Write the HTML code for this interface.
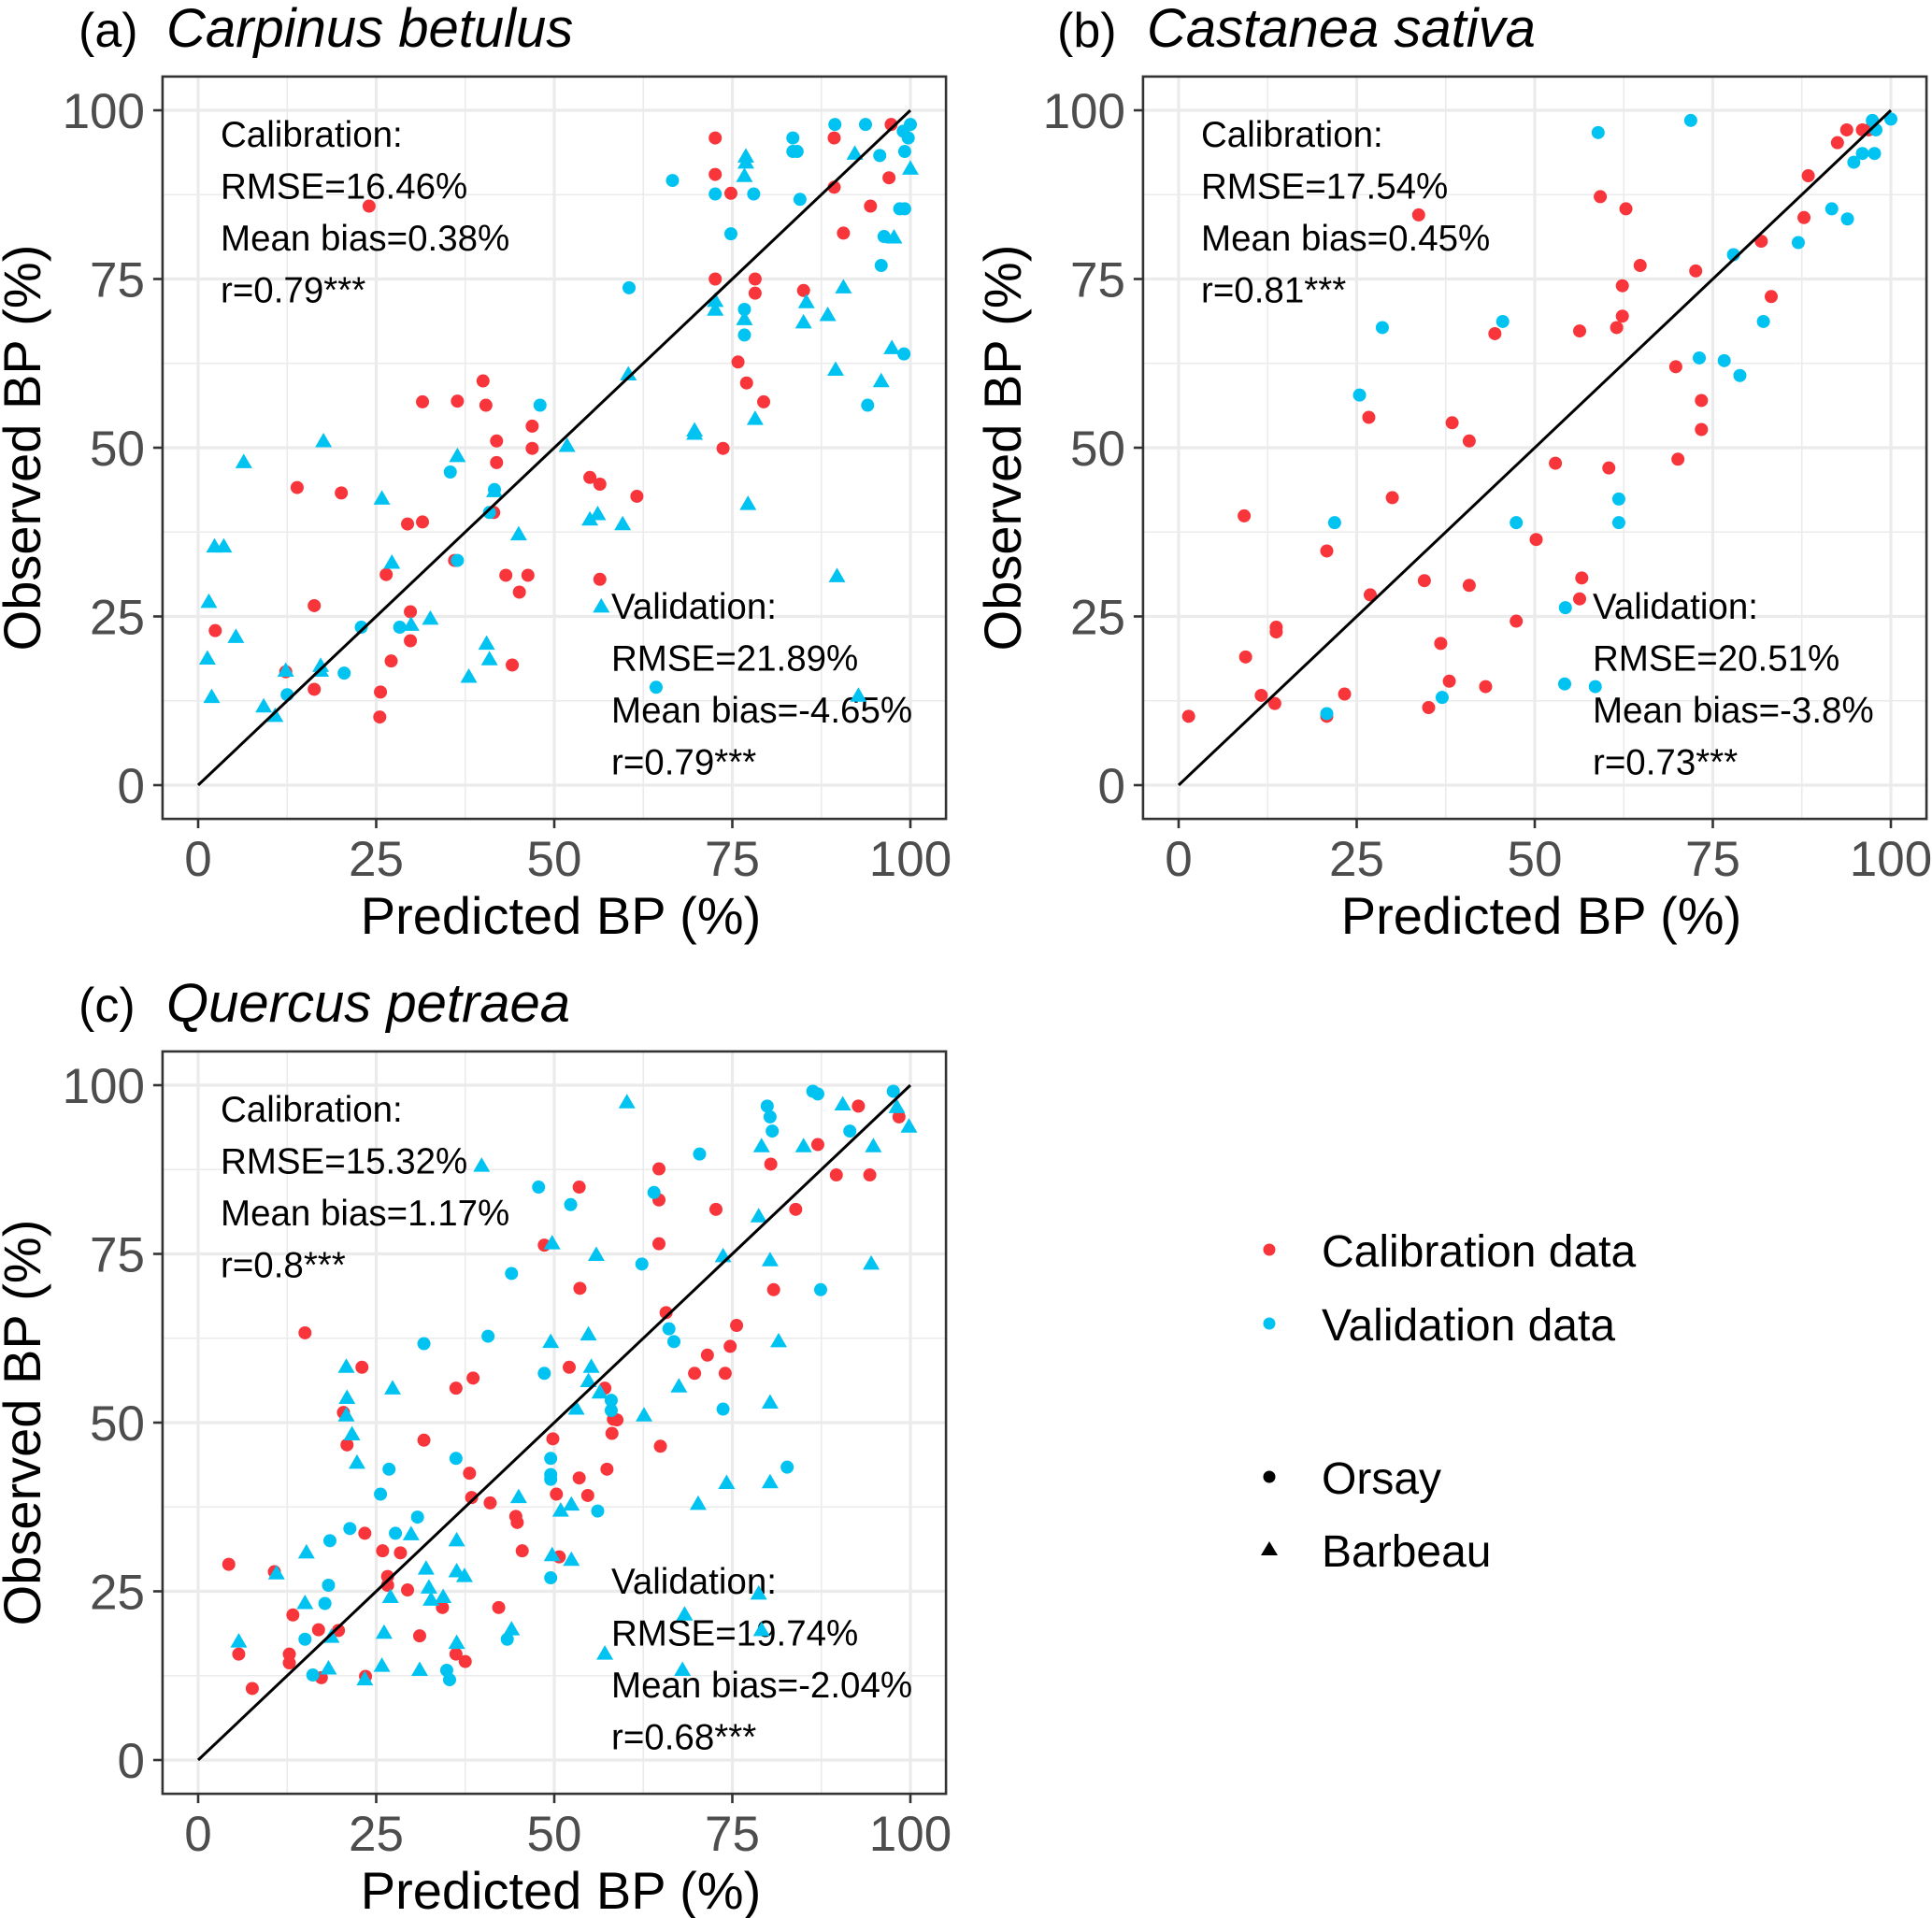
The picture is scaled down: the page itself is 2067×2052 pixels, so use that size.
<!DOCTYPE html>
<html><head><meta charset="utf-8">
<style>
html,body{margin:0;padding:0;background:#fff;}
svg{display:block;font-family:"Liberation Sans",Arial,sans-serif;}
</style></head>
<body>
<svg id="fig" width="2067" height="2052" viewBox="0 0 2067 2052" xmlns="http://www.w3.org/2000/svg"></svg>
<script>
// ---- Data (x = predicted %, y = observed %) ----
const ticks = [0, 25, 50, 75, 100];
const tickLabels = ["0", "25", "50", "75", "100"];

// Panel (a) Carpinus betulus
const aCalX = [24,72.6,72.6,74.8,89.3,97.3,97,89.3,94.4,90.6,72.6,78.2,78.2,85,75.8,77,79.4,73.7,40,31.5,36.4,40.4,41.9,46.9,46.9,41.9,13.9,20.1,29.4,31.5,41.5,55,56.4,61.6,36,26.4,43.2,46.3,45.1,56.4,16.3,29.8,29.8,27.1,44.1,2.4,16.3,25.6,25.5,12.3];
const aCalY = [85.8,95.9,90.5,87.7,95.9,97.9,90,88.6,85.8,81.8,75,75,72.9,73.3,62.7,59.6,56.8,49.9,59.9,56.8,56.9,56.3,51,53.2,49.9,47.8,44.1,43.3,38.7,39,40.4,45.6,44.6,42.8,33.3,31.2,31.1,31.1,28.6,30.5,26.6,25.7,21.4,18.4,17.8,22.9,14.2,13.8,10.1,16.8];
const aValOrsayX = [89.4,93.7,100,99,99.7,83.5,83.5,84.1,95.7,99.2,66.6,72.6,78,84.5,98.5,99.2,74.8,96.3,95.9,60.5,76.7,76.7,99.1,94,48,35.4,41.6,40.9,36.4,22.9,28.3,20.5,12.5,64.3];
const aValOrsayY = [97.9,97.9,97.9,96.9,95.9,95.9,93.9,93.9,93.3,93.9,89.6,87.6,87.6,86.8,85.4,85.4,81.7,81.3,77,73.7,70.5,66.7,63.9,56.3,56.3,46.4,43.8,40.4,33.3,23.4,23.4,16.6,13.4,14.5];
const aValBarbX = [76.9,76.9,76.7,92.2,100,97.7,72.6,72.6,76.7,85.4,85,88.4,90.6,97.4,95.9,89.5,78.2,69.7,69.7,60.4,51.8,55,56.1,59.6,77.2,89.7,56.6,92.7,6.4,17.6,36.4,41.6,25.8,45,2.3,3.6,27.2,1.5,5.3,1.3,1.9,32.6,29.9,40.5,40.9,38,17.2,17.2,12.3,9.2,10.8];
const aValBarbY = [93.1,92.2,90.2,93.5,91.3,81.1,71.7,70.4,69,71.5,68.5,69.6,73.7,64.7,59.8,61.5,54.2,52.5,52,60.8,50.2,39.3,40.1,38.6,41.6,30.9,26.4,13.2,47.8,50.9,48.7,43.5,42.4,37.1,35.3,35.3,32.9,27.1,21.9,18.7,13,24.6,23.7,20.9,18.6,16,16.9,17.6,16.9,11.6,10.2];

// Panel (b) Castanea sativa
const bCalX = [1.4,9.2,9.4,11.6,13.5,13.7,13.7,20.8,20.8,23.3,26.9,26.7,30,33.7,34.5,35.1,36.8,38,38.4,40.8,40.8,43.1,44.4,47.4,50.2,52.9,56.3,56.6,56.3,59.2,60.4,61.5,62.3,62.3,62.8,64.8,69.8,70.1,72.6,73.4,73.4,81.8,83.2,87.8,88.4,92.5,93.8,96,96.9];
const bCalY = [10.2,39.9,19,13.3,12.1,22.7,23.4,34.7,10.2,13.5,28.2,54.5,42.6,84.5,30.3,11.5,21,15.4,53.7,51,29.6,14.6,66.9,24.3,36.4,47.7,67.3,30.7,27.6,87.2,47,67.8,74,69.5,85.4,77,62,48.3,76.2,57,52.7,80.6,72.4,84.1,90.3,95.2,97.1,97.1,97.1];
const bValOrsayX = [20.8,21.9,25.4,28.6,37,45.5,47.4,54.2,54.3,58.5,58.9,61.8,61.8,71.9,73.1,76.6,77.9,78.8,82.1,87,91.7,93.9,94.8,96,97.4,97.7,97.9,100];
const bValOrsayY = [10.6,38.9,57.8,67.8,13,68.7,38.9,15,26.3,14.6,96.7,42.4,38.9,98.5,63.3,62.9,78.6,60.7,68.7,80.4,85.4,83.9,92.3,93.6,98.5,93.6,97.1,98.7];
const bValBarbX = [];
const bValBarbY = [];

// Panel (c) Quercus petraea
const cCalX = [4.3,5.7,7.6,10.7,12.8,12.8,13.3,15,16.9,17.3,19.7,20.4,20.9,23,23.4,23.5,25.9,26.6,26.6,28.4,29.4,31.1,31.7,34.3,36.2,36.2,37.5,38.1,38.4,38.6,41,42.2,44.6,44.8,45.5,48.6,49.8,50.3,50.7,52.1,53.5,53.5,53.6,54.7,57.1,57.4,58.1,58.3,58.8,64.7,64.7,64.7,64.9,65.7,69.7,71.5,72.7,74,74.7,75.6,80.4,80.8,83.9,87,89.6,92.7,94.3,98.4];
const cCalY = [29,15.7,10.6,27.9,15.7,14.4,21.5,63.3,19.3,12.2,19.2,51.5,46.7,58.2,33.6,12.4,31,27.2,25.9,30.7,25.2,18.4,47.4,22.6,55.1,15.7,14.6,42.5,38.9,56.6,38.1,22.6,36.1,35.2,31,76.3,47.6,39.4,30.1,58.2,84.9,41.8,69.9,39.2,55.1,43.1,48.4,50.5,50.4,87.6,83,76.5,46.5,66.3,57.3,60,81.6,57.3,61.3,64.4,88.3,69.7,81.6,91.2,86.7,96.9,86.7,95.3];
const cValOrsayX = [15,16.1,17.8,18.5,18.3,21.3,25.6,26.8,27.7,30.8,31.7,36.2,34.9,35.3,40.7,44,43.4,47.8,48.6,49.5,49.5,49.5,49.5,52.3,56.1,58,58,62.3,64,66.1,66.8,70.4,73.7,79.9,80.3,80.6,82.7,86.3,87,87.4,91.5,97.6];
const cValOrsayY = [17.9,12.6,23.2,32.5,25.9,34.3,39.4,43.1,33.6,36,61.7,44.7,13.3,11.9,62.8,72.1,17.9,84.9,57.3,44.7,42.3,41.6,27,82.3,36.9,51.8,53.3,73.5,84.1,63.9,62,89.8,52,96.9,95.3,93.2,43.4,99.1,98.7,69.7,93.2,99.1];
const cValBarbX = [5.7,11,15,15.2,18.3,18.7,20.8,20.9,20.8,21.6,22.3,23.4,25.8,26.1,27,27.3,29.9,31.1,32,32.4,32.7,34.4,36.3,36.3,36.3,37.4,39.8,44,45,49.5,49.7,49.7,50.9,52.4,52.4,53.1,54.8,54.8,55.2,55.9,56.4,57.1,60.2,62.6,67.5,68,68.3,70.2,73.7,74.2,78.7,78.7,79.1,79.1,80.3,80.3,80.3,81.5,85,90.5,94.5,94.8,98.1,99.8];
const cValBarbY = [17.5,27.6,23.2,30.7,13.5,18.2,51,53.6,58.2,48.2,44,11.9,13.9,18.8,24.1,55,33.4,13.3,28.3,25.5,23.7,24.1,32.5,27.9,17.3,27.2,88,19.3,38.9,61.9,76.5,30.3,36.9,29.6,37.8,52,63,56.1,58.2,74.8,54.4,15.7,97.4,51,55.3,13.3,21.5,37.9,74.6,41,24.6,80.5,90.9,19.2,52.9,74,41.1,62,90.9,97.1,73.5,90.9,96.7,93.8];

const RED = "#F8353B", BLUE = "#00C3F2";
const svg = document.getElementById('fig');
const NS = "http://www.w3.org/2000/svg";
function mk(tag, attrs, parent){
  const e = document.createElementNS(NS, tag);
  for (const k in attrs) e.setAttribute(k, attrs[k]);
  (parent||svg).appendChild(e);
  return e;
}

function panel(ox, oy, letter, species, calX, calY, voX, voY, vbX, vbY, calTxt, valTxt, id){
  const X0 = 212 + ox, X1 = 974 + ox, Y0 = 840 + oy, Y1 = 118 + oy;
  const sx = v => X0 + (X1 - X0) * v / 100;
  const sy = v => Y0 - (Y0 - Y1) * v / 100;
  const g = mk('g', {});
  
  
  const L = sx(-5), R = sx(105), T = sy(105), B = sy(-5);
  const grid = mk('g', {}, g);
  
  
  for (let v = 12.5; v < 100; v += 25) {
    mk('line', {x1: sx(v), x2: sx(v), y1: T, y2: B, stroke: '#EBEBEB', 'stroke-width': 1.6}, grid);
    mk('line', {x1: L, x2: R, y1: sy(v), y2: sy(v), stroke: '#EBEBEB', 'stroke-width': 1.6}, grid);
  }
  ticks.forEach(v => {
    mk('line', {x1: sx(v), x2: sx(v), y1: T, y2: B, stroke: '#EBEBEB', 'stroke-width': 3.2}, grid);
    mk('line', {x1: L, x2: R, y1: sy(v), y2: sy(v), stroke: '#EBEBEB', 'stroke-width': 3.2}, grid);
  });
  const ann = mk('g', {'font-size': 38.5, fill: '#000'}, g);
  
  
  calTxt.forEach((t, i) => { const e = mk('text', {x: 236 + ox, y: 157 + oy + i * 55.5}, ann); e.textContent = t; });
  valTxt.forEach((t, i) => { const e = mk('text', {x: id === 'b' ? 1704 : 654, y: 662 + oy + i * 55.5}, ann); e.textContent = t; });
  const pts = mk('g', {}, g);
  
  
  calX.forEach((x, i) => {
    const c = mk('circle', {cx: sx(x), cy: sy(calY[i]), r: 7, fill: RED}, pts);
    
    
  });
  voX.forEach((x, i) => {
    const c = mk('circle', {cx: sx(x), cy: sy(voY[i]), r: 7, fill: BLUE}, pts);
    
    
  });
  vbX.forEach((x, i) => {
    const cx = sx(x), cy = sy(vbY[i]);
    const p = mk('polygon', {points: `${cx},${cy-9.5} ${cx-9},${cy+6} ${cx+9},${cy+6}`, fill: BLUE}, pts);
    
    
  });
  const ln = mk('line', {x1: sx(0), y1: sy(0), x2: sx(100), y2: sy(100), stroke: '#000', 'stroke-width': 3}, g);
  
  
  const bd = mk('rect', {x: L, y: T, width: R - L, height: B - T, fill: 'none', stroke: '#333', 'stroke-width': 2.6}, g);
  
  
  const ax = mk('g', {'font-size': 53, fill: '#4D4D4D'}, g);
  
  
  ticks.forEach((v, i) => {
    mk('line', {x1: sx(v), x2: sx(v), y1: B, y2: B + 10, stroke: '#333', 'stroke-width': 2.6}, ax);
    mk('line', {x1: L - 10, x2: L, y1: sy(v), y2: sy(v), stroke: '#333', 'stroke-width': 2.6}, ax);
    const tx = mk('text', {x: sx(v), y: 937 + oy, 'text-anchor': 'middle'}, ax);
    
    
    tx.textContent = tickLabels[i];
    const ty = mk('text', {x: 155 + ox, y: sy(v) + 19, 'text-anchor': 'end'}, ax);
    
    
    ty.textContent = tickLabels[i];
  });
  const xt = mk('text', {x: (L + R) / 2 + 7, y: 999 + oy, 'text-anchor': 'middle', 'font-size': 56, fill: '#000'}, g);
  
  
  xt.textContent = 'Predicted BP (%)';
  const yc = (T + B) / 2;
  const yt = mk('text', {x: 0, y: 0, 'text-anchor': 'middle', 'font-size': 56, fill: '#000', transform: `translate(${43 + ox},${yc}) rotate(-90)`}, g);
  
  
  yt.textContent = 'Observed BP (%)';
  const tl = mk('text', {x: 84 + ox - (id === 'b' ? 2 : 0), y: 50 + oy, 'font-size': 52, fill: '#000'}, g);
  
  
  tl.textContent = letter;
  const sp = mk('text', {x: 178 + ox, y: 50 + oy, 'font-size': 58, 'font-style': 'italic', fill: '#000'}, g);
  
  
  sp.textContent = species;
}

panel(0, 0, '(a)', 'Carpinus betulus', aCalX, aCalY, aValOrsayX, aValOrsayY, aValBarbX, aValBarbY,
  ['Calibration:', 'RMSE=16.46%', 'Mean bias=0.38%', 'r=0.79***'],
  ['Validation:', 'RMSE=21.89%', 'Mean bias=-4.65%', 'r=0.79***'], 'a');
panel(1049, 0, '(b)', 'Castanea sativa', bCalX, bCalY, bValOrsayX, bValOrsayY, bValBarbX, bValBarbY,
  ['Calibration:', 'RMSE=17.54%', 'Mean bias=0.45%', 'r=0.81***'],
  ['Validation:', 'RMSE=20.51%', 'Mean bias=-3.8%', 'r=0.73***'], 'b');
panel(0, 1043, '(c)', 'Quercus petraea', cCalX, cCalY, cValOrsayX, cValOrsayY, cValBarbX, cValBarbY,
  ['Calibration:', 'RMSE=15.32%', 'Mean bias=1.17%', 'r=0.8***'],
  ['Validation:', 'RMSE=19.74%', 'Mean bias=-2.04%', 'r=0.68***'], 'c');

const lg = mk('g', {'font-size': 48, fill: '#000'});


const items = [
  {t: 'Calibration data', y: 1355, shape: 'c', col: RED, n: 'legend-calibration'},
  {t: 'Validation data', y: 1434, shape: 'c', col: BLUE, n: 'legend-validation'},
  {t: 'Orsay', y: 1598, shape: 'c', col: '#000', n: 'legend-orsay'},
  {t: 'Barbeau', y: 1676, shape: 't', col: '#000', n: 'legend-barbeau'}
];
items.forEach(it => {
  const g = mk('g', {}, lg);
  
  
  const cy = it.y - 18;
  if (it.shape === 'c') mk('circle', {cx: 1358, cy: cy, r: 6.5, fill: it.col}, g);
  else mk('polygon', {points: `1358,${cy-9} 1349,${cy+6} 1367,${cy+6}`, fill: it.col}, g);
  const t = mk('text', {x: 1414, y: it.y}, g);
  t.textContent = it.t;
});
</script>
</body></html>
